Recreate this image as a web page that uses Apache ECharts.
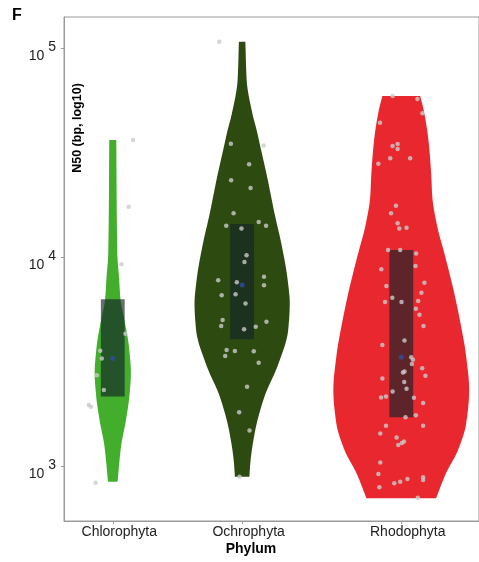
<!DOCTYPE html>
<html>
<head>
<meta charset="utf-8">
<script src="https://cdn.jsdelivr.net/npm/echarts@6/dist/echarts.min.js"></script>
<style>
  html, body { margin: 0; padding: 0; background: #fff; }
  #chart { width: 479px; height: 562px; }
</style>
</head>
<body>
<div id="chart"></div>
<script>
// Categories and where they sit on the x axis
const categories = ['Chlorophyta', 'Ochrophyta', 'Rhodophyta'];
const positions = [0, 1, 2.23];

// N50 of each assembly (bp) and its horizontal jitter
const chloroN50 = [36300, 17400, 9230, 4290, 3560, 3270, 2720, 2310, 1960, 1920, 832];
const chloroJitter = [0.157, 0.123, 0.067, 0.098, -0.097, -0.085, -0.123, -0.069, -0.185, -0.169, -0.133];

const ochroN50 = [107200, 34800, 34200, 27800, 23300, 21400, 16200, 14100, 13700, 14700,
  14100, 10200, 9460, 7740, 7570, 8050, 7320, 6560, 6630, 6000,
  4995, 4670, 4900, 4640, 4510, 3590, 3550, 3360, 3540, 3120,
  2395, 1810, 1480, 889];
const ochroJitter = [-0.177, -0.087, 0.167, 0.054, -0.085, 0.065, -0.066, -0.123, -0.005, 0.128,
  0.185, 0.034, 0.018, -0.185, -0.041, 0.169, 0.169, -0.158, -0.051, 0.026,
  -0.151, -0.162, 0.188, 0.105, 0.015, -0.12, -0.056, -0.131, 0.09, 0.128,
  0.038, -0.023, 0.057, -0.02];

const rhodoN50 = [58900, 57000, 48700, 43900, 34000, 34700, 32900, 29700, 29700, 27900,
  17600, 16200, 14500, 13700, 13800, 10800, 10800, 10400, 9060, 8730,
  7530, 7270, 6750, 6390, 6090, 6090, 6160, 5660, 5290, 4670,
  3990, 3790, 3310, 3220, 3080, 2830, 2800, 2940, 2700, 2620,
  2520, 2340, 2270, 2150, 2130, 2120, 2000, 1750, 1710, 1560,
  1560, 1430, 1370, 1290, 1310, 1260, 1040, 915, 791, 826,
  841, 867, 883, 857, 705];
const rhodoJitter = [-0.067, 0.125, 0.164, -0.164, -0.067, -0.028, -0.028, -0.085, 0.069, -0.177,
  -0.041, -0.079, -0.028, -0.015, 0.041, -0.102, -0.008, 0.115, 0.11, -0.154,
  0.179, -0.115, 0.156, -0.069, -0.125, 0.002, 0.131, 0.113, 0.141, 0.172,
  0.025, -0.146, 0.077, 0.09, 0.082, 0.025, 0.013, 0.162, 0.187, -0.146,
  0.023, 0.041, -0.067, -0.118, -0.156, 0.098, 0.169, 0.113, 0.033, -0.118,
  0.169, -0.162, -0.036, 0.005, 0.021, -0.023, -0.162, -0.177, -0.169, -0.054,
  -0.008, 0.048, 0.169, 0.169, 0.128];

// Violin outlines: N50 level and density half-width (x-axis units)
const chloroProfileN50 = [36300, 10400, 8050, 6230, 5000, 3720, 2780, 2150, 1660, 1240, 841];
const chloroProfileWidth = [0.027, 0.035, 0.048, 0.06, 0.09, 0.125, 0.14, 0.128, 0.102, 0.064, 0.037];
const ochroProfileN50 = [107200, 70300, 48700, 40500, 33700, 23400, 16200, 11200, 7760, 6000, 4475, 3100, 2150, 1490, 1030, 889];
const ochroProfileWidth = [0.025, 0.035, 0.079, 0.112, 0.141, 0.198, 0.25, 0.308, 0.352, 0.368, 0.356, 0.282, 0.173, 0.102, 0.063, 0.056];
const rhodoProfileN50 = [58900, 50500, 36300, 25150, 19430, 14500, 10030, 6950, 4820, 3335, 2310, 1600, 1190, 923, 701];
const rhodoProfileWidth = [0.146, 0.173, 0.21, 0.231, 0.24, 0.273, 0.34, 0.404, 0.458, 0.502, 0.525, 0.502, 0.438, 0.346, 0.269];

// Box statistics
const q1 = [2150, 4040, 1710];
const medians = [3270, 7350, 3310];
const q3 = [6280, 14400, 10800];

// Axis tick values
const yTicks = [1000, 10000, 100000];

const FONT = 'Liberation Sans, Arial, sans-serif';
const violinColors = ['#43ad2c', '#2d4a10', '#e8282e'];
const BOX_HALF = 0.092;

const groups = [
  { n50: chloroN50, jitter: chloroJitter, pn: chloroProfileN50, pw: chloroProfileWidth },
  { n50: ochroN50, jitter: ochroJitter, pn: ochroProfileN50, pw: ochroProfileWidth },
  { n50: rhodoN50, jitter: rhodoJitter, pn: rhodoProfileN50, pw: rhodoProfileWidth }
];

// Monotone cubic resampling of an outline given as [halfWidth, y] sorted by y
function smoothEdge(pts, steps) {
  const n = pts.length;
  const y = pts.map(p => p[1]), w = pts.map(p => p[0]);
  const d = [], m = new Array(n);
  for (let k = 0; k < n - 1; k++) d[k] = (w[k + 1] - w[k]) / (y[k + 1] - y[k]);
  m[0] = d[0]; m[n - 1] = d[n - 2];
  for (let k = 1; k < n - 1; k++) {
    if (d[k - 1] * d[k] <= 0) { m[k] = 0; continue; }
    const h0 = y[k] - y[k - 1], h1 = y[k + 1] - y[k];
    m[k] = 3 * (h0 + h1) / ((2 * h1 + h0) / d[k - 1] + (h1 + 2 * h0) / d[k]);
  }
  const out = [];
  for (let k = 0; k < n - 1; k++) {
    const h = y[k + 1] - y[k];
    for (let s = 0; s < steps; s++) {
      const t = s / steps, t2 = t * t, t3 = t2 * t;
      const val = (2 * t3 - 3 * t2 + 1) * w[k] + (t3 - 2 * t2 + t) * h * m[k] +
                  (-2 * t3 + 3 * t2) * w[k + 1] + (t3 - t2) * h * m[k + 1];
      out.push([Math.max(val, 0), y[k] + t * h]);
    }
  }
  out.push([w[n - 1], y[n - 1]]);
  return out;
}

function renderViolin(params, api) {
  const idx = api.value(2);
  const pos = api.value(0);
  const g = groups[idx];
  const cx = api.coord([pos, g.pn[0]])[0];
  const edge = g.pn.map((v, k) => {
    const p = api.coord([pos + g.pw[k], v]);
    return [p[0] - cx, p[1]];
  });
  const dense = smoothEdge(edge, 12);
  const right = dense.map(p => [cx + p[0], p[1]]);
  const left = dense.slice().reverse().map(p => [cx - p[0], p[1]]);
  return {
    type: 'polygon',
    shape: { points: right.concat(left) },
    style: { fill: violinColors[idx] }
  };
}

function renderBox(params, api) {
  const pos = api.value(0);
  const lo = api.value(1), hi = api.value(2);
  const a = api.coord([pos - BOX_HALF, hi]);
  const b = api.coord([pos + BOX_HALF, lo]);
  return {
    type: 'rect',
    shape: { x: a[0], y: a[1], width: b[0] - a[0], height: b[1] - a[1] },
    style: { fill: 'rgba(22,36,40,0.66)' }
  };
}

const violinData = categories.map((c, i) => [positions[i], medians[i], i]);
const boxData = categories.map((c, i) => [positions[i], q1[i], q3[i]]);
const medianData = categories.map((c, i) => [positions[i], medians[i]]);

const pointSeries = groups.map((g, i) => ({
  type: 'scatter',
  name: categories[i],
  z: 4,
  symbol: 'circle',
  symbolSize: 4.5,
  itemStyle: { color: '#cacaca' },
  data: g.n50.map((v, k) => [positions[i] + g.jitter[k], v]),
  silent: true
}));

const chart = echarts.init(document.getElementById('chart'), null, { renderer: 'canvas' });

chart.setOption({
  animation: false,
  backgroundColor: '#ffffff',
  grid: {
    left: 64, top: 17, right: -2, bottom: 41,
    show: true, borderColor: '#9a9a9a', borderWidth: 1
  },
  xAxis: {
    type: 'value',
    min: -0.377,
    max: 2.831,
    splitLine: { show: false },
    axisLine: { show: true, onZero: false, lineStyle: { color: '#9a9a9a' } },
    axisTick: { show: true, length: 3, customValues: positions, lineStyle: { color: '#9a9a9a' } },
    axisLabel: {
      customValues: positions,
      formatter: v => {
        const i = positions.findIndex(p => Math.abs(p - v) < 1e-6);
        return i >= 0 ? categories[i] : '';
      },
      margin: 4,
      padding: [0, 0, 0, 13],
      fontSize: 14,
      color: '#222',
      fontFamily: FONT
    }
  },
  yAxis: {
    type: 'log',
    logBase: 10,
    min: 545.7,
    max: 140700,
    splitLine: { show: false },
    axisLine: { show: true, onZero: false, lineStyle: { color: '#9a9a9a' } },
    axisTick: { show: true, length: 3, customValues: yTicks, lineStyle: { color: '#9a9a9a' } },
    axisLabel: {
      customValues: yTicks,
      margin: 8,
      formatter: v => '{b|10}{e|' + Math.round(Math.log10(v)) + '}',
      rich: {
        b: { fontSize: 14, color: '#222', fontFamily: FONT, lineHeight: 30, verticalAlign: 'bottom' },
        e: { fontSize: 14, color: '#222', fontFamily: FONT, lineHeight: 14, verticalAlign: 'top', padding: [7, 0, 0, 4] }
      }
    }
  },
  graphic: [
    {
      type: 'text', left: 12, top: 8,
      style: { text: 'F', font: 'bold 16px ' + FONT, fill: '#000' }
    },
    {
      type: 'text', x: 78, y: 128, rotation: Math.PI / 2,
      style: { text: 'N50 (bp, log10)', font: 'bold 12.5px ' + FONT, fill: '#000', align: 'center', verticalAlign: 'middle' }
    },
    {
      type: 'text', x: 251, y: 549,
      style: { text: 'Phylum', font: 'bold 14px ' + FONT, fill: '#000', align: 'center', verticalAlign: 'middle' }
    }
  ],
  series: [
    {
      type: 'custom',
      name: 'violin',
      z: 2,
      renderItem: renderViolin,
      encode: { x: 0, y: 1 },
      data: violinData,
      silent: true
    },
    {
      type: 'custom',
      name: 'box',
      z: 3,
      renderItem: renderBox,
      encode: { x: 0, y: [1, 2] },
      data: boxData,
      silent: true
    },
    ...pointSeries,
    {
      type: 'scatter',
      name: 'median',
      z: 5,
      symbol: 'circle',
      symbolSize: 5,
      itemStyle: { color: '#2f4fa0' },
      data: medianData,
      silent: true
    }
  ]
});
</script>
</body>
</html>
